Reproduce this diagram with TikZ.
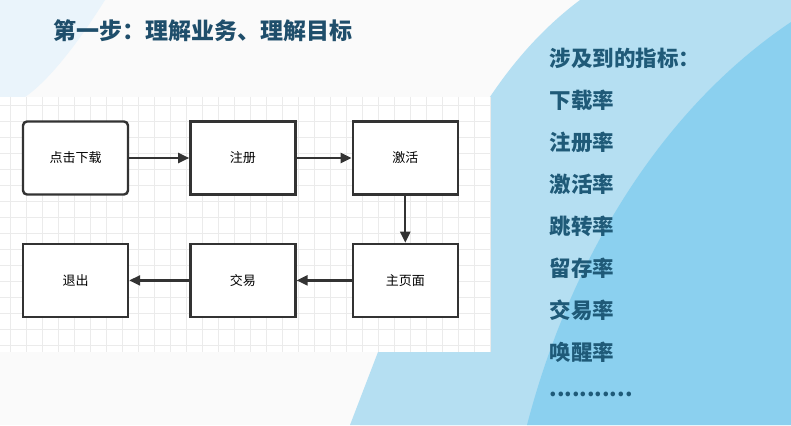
\documentclass[tikz,border=0pt]{standalone}
\usepackage{fontspec}
\newfontfamily\cjk{Noto Sans CJK SC}
\usetikzlibrary{positioning,arrows.meta}
\definecolor{bgpale}{HTML}{FAFAFA}
\definecolor{skylight}{HTML}{B5DFF2}
\definecolor{skydark}{HTML}{8BD0EF}
\definecolor{cornerblue}{HTML}{EAF4FB}
\definecolor{titleblue}{HTML}{1F4E6B}
\definecolor{listblue}{HTML}{1F5A78}
\definecolor{linegray}{HTML}{333333}
\tikzset{
  stepbox/.style={draw=linegray, line width=2.4pt, fill=white,
    minimum width=105pt, minimum height=73pt, font=\cjk\fontsize{13}{15}\selectfont},
  flow/.style={draw=linegray, line width=2.2pt, -{Triangle[length=11pt,width=10pt]}},
  metric/.style={anchor=west, text=listblue, font=\cjk\bfseries\fontsize{21.5}{24}\selectfont}
}
\begin{document}
\begin{tikzpicture}[x=1pt,y=-1pt]
			\useasboundingbox (0,0) rectangle (791,425);
			\fill[bgpale] (0,0) rectangle (791,425);
			%corner
			\fill[cornerblue] (0,0) -- (105,0) .. controls (80,40) and (50,80) .. (25,97) -- (0,97) -- cycle;
			%light blue wave
			\fill[skylight] (580,0) -- (791,0) -- (791,425) -- (360,425)
				.. controls (410,250) and (460,90) .. (580,0);
			\fill[skylight] (350,425) -- (378,352) -- (500,352) -- (500,425) -- cycle;
			%dark blue wave
			\fill[skydark] (791,22) .. controls (660,110) and (570,260) .. (527,425) -- (791,425) -- cycle;

			%grid
			\fill[white] (0,97) rectangle (490,352);
			\foreach \gx in {10,26,...,490}
				\draw[black!8, line width=0.8pt] (\gx,97) -- (\gx,352);
			\foreach \gy in {105,121,...,352}
				\draw[black!8, line width=0.8pt] (0,\gy) -- (490,\gy);

			\node[stepbox, rounded corners=4pt] (Download) at (75.5,158) {点击下载};
			\node[stepbox, right=60pt of Download] (Register) {注册};
			\node[stepbox, right=55pt of Register] (Activate) {激活};
			\node[stepbox, below=47pt of Activate] (Home) {主页面};
			\node[stepbox, left=55pt of Home] (Trade) {交易};
			\node[stepbox, left=60pt of Trade] (Quit) {退出};

			\draw[flow] (Download) -- (Register);
			\draw[flow] (Register) -- (Activate);
			\draw[flow] (Activate) -- (Home);
			\draw[flow] (Home) -- (Trade);
			\draw[flow] (Trade) -- (Quit);

			%title
			\node[anchor=west, text=titleblue, font=\cjk\bfseries\fontsize{23}{25}\selectfont] (Title) at (50,31) {第一步：理解业务、理解目标};

			%metrics
			\node[metric] (Metrics) at (546,58) {涉及到的指标：};
			\node[metric] (M1) at (546,100) {下载率};
			\node[metric] (M2) at (546,142) {注册率};
			\node[metric] (M3) at (546,184) {激活率};
			\node[metric] (M4) at (546,226) {跳转率};
			\node[metric] (M5) at (546,268) {留存率};
			\node[metric] (M6) at (546,310) {交易率};
			\node[metric] (M7) at (546,352) {唤醒率};
			\node[metric] (More) at (546,394) {...........};
		\end{tikzpicture}
\end{document}
